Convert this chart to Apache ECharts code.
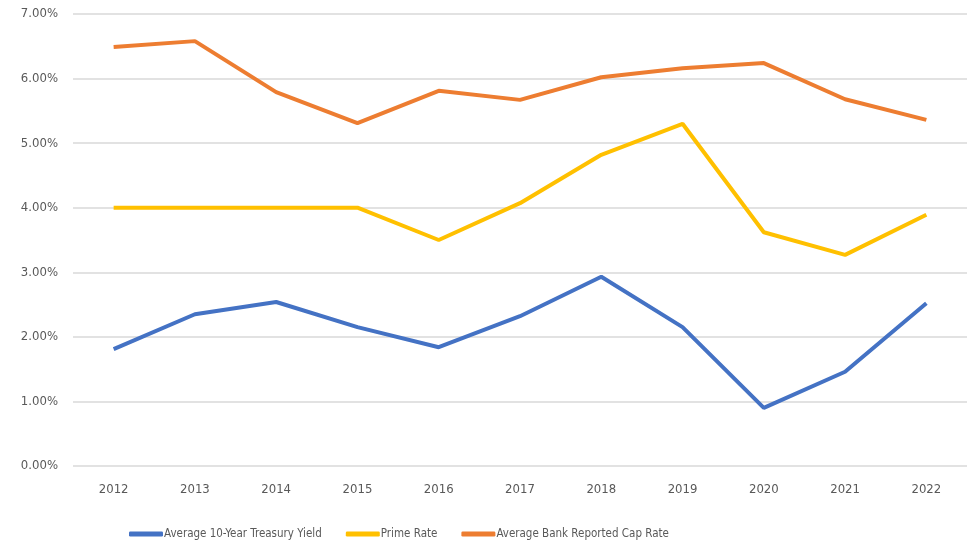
<!DOCTYPE html>
<html>
<head>
<meta charset="utf-8">
<script src="https://cdn.jsdelivr.net/npm/echarts@6/dist/echarts.min.js"></script>
<style>
  html, body { margin: 0; padding: 0; background: #fff; }
  #line-chart { width: 967px; height: 543px; }
</style>
</head>
<body>
<div id="line-chart"></div>
<script>
var years = ['2012', '2013', '2014', '2015', '2016', '2017', '2018', '2019', '2020', '2021', '2022'];
var treasury = [1.81, 2.35, 2.54, 2.15, 1.84, 2.32, 2.93, 2.15, 0.90, 1.46, 2.52];
var prime = [4.00, 4.00, 4.00, 4.00, 3.50, 4.07, 4.82, 5.30, 3.62, 3.27, 3.89];
var capRate = [6.49, 6.58, 5.79, 5.31, 5.81, 5.67, 6.02, 6.16, 6.24, 5.68, 5.36];

var font = "'DejaVu Sans Condensed', 'Liberation Sans', Arial, sans-serif";
var myChart = echarts.init(document.getElementById('line-chart'));

function lineSeries(name, data, color) {
    return {
        name: name,
        type: 'line',
        data: data,
        symbol: 'none',
        lineStyle: { width: 4, color: color },
        itemStyle: { color: color }
    };
}

myChart.setOption({
    animation: false,
    textStyle: { fontFamily: font },
    grid: { left: 73, right: 0, top: 14, bottom: 77 },
    xAxis: {
        type: 'category',
        data: years,
        boundaryGap: true,
        axisLine: { show: false },
        axisTick: { show: false },
        axisLabel: { color: '#595959', fontSize: 13, margin: 17, fontFamily: font }
    },
    yAxis: {
        type: 'value',
        min: 0,
        max: 7,
        interval: 1,
        axisLabel: {
            color: '#595959', fontSize: 13, margin: 15, fontFamily: font,
            formatter: function (v) { return v.toFixed(2) + '%'; }
        },
        splitLine: { lineStyle: { color: '#d9d9d9', width: 1.5 } }
    },
    legend: {
        left: 124,
        top: 523,
        itemWidth: 34,
        itemHeight: 5,
        itemGap: 24,
        icon: 'roundRect',
        textStyle: { color: '#595959', fontSize: 11.5, fontFamily: font, padding: [0, 0, 0, -4] },
        data: ['Average 10-Year Treasury Yield', 'Prime Rate', 'Average Bank Reported Cap Rate']
    },
    series: [
        lineSeries('Average 10-Year Treasury Yield', treasury, '#4472C4'),
        lineSeries('Prime Rate', prime, '#FFC000'),
        lineSeries('Average Bank Reported Cap Rate', capRate, '#ED7D31')
    ]
});
</script>
</body>
</html>
